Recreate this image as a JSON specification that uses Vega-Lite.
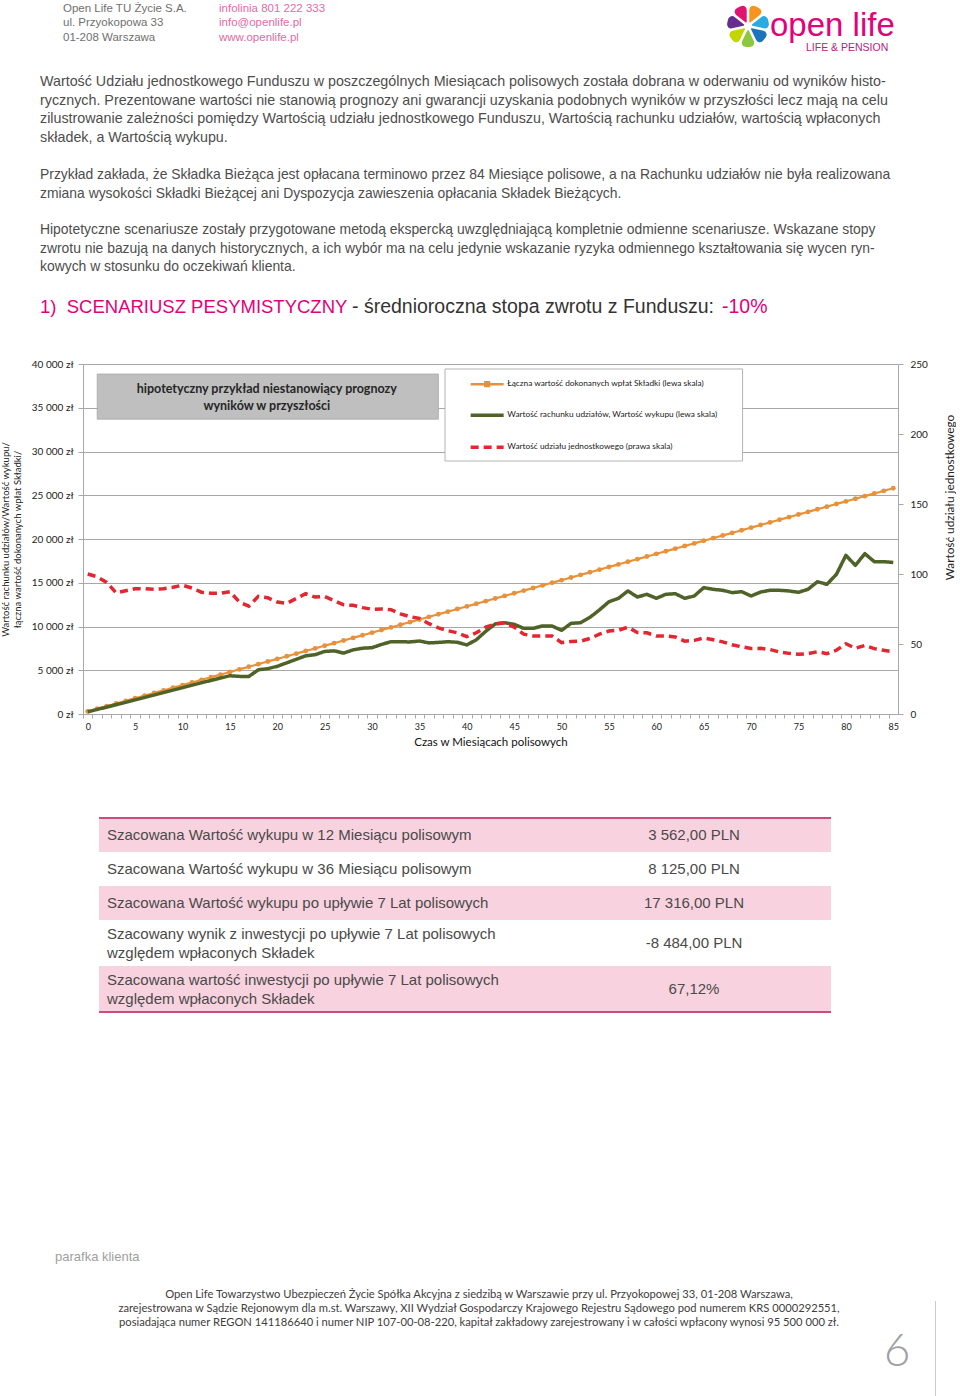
{
"$schema": "https://vega.github.io/schema/vega-lite/v6.json",
"background": "white",
"padding": 0,
"config": {"view": {"stroke": null}, "concat": {"spacing": 0}, "font": "Liberation Sans",
  "axisX": {"labelOverlap": false, "labelFlush": false, "labelBound": false}},
"resolve": {"scale": {"color": "independent", "strokeDash": "independent"}, "legend": {"color": "independent", "strokeDash": "independent"}},
"datasets": {
"series": [
{"m":0,"s":"p","v":300},{"m":1,"s":"p","v":600},{"m":2,"s":"p","v":900},{"m":3,"s":"p","v":1200},{"m":4,"s":"p","v":1500},{"m":5,"s":"p","v":1800},{"m":6,"s":"p","v":2100},{"m":7,"s":"p","v":2400},{"m":8,"s":"p","v":2700},{"m":9,"s":"p","v":3000},
{"m":10,"s":"p","v":3300},{"m":11,"s":"p","v":3600},{"m":12,"s":"p","v":3900},{"m":13,"s":"p","v":4200},{"m":14,"s":"p","v":4500},{"m":15,"s":"p","v":4800},{"m":16,"s":"p","v":5100},{"m":17,"s":"p","v":5400},{"m":18,"s":"p","v":5700},{"m":19,"s":"p","v":6000},
{"m":20,"s":"p","v":6300},{"m":21,"s":"p","v":6600},{"m":22,"s":"p","v":6900},{"m":23,"s":"p","v":7200},{"m":24,"s":"p","v":7500},{"m":25,"s":"p","v":7800},{"m":26,"s":"p","v":8100},{"m":27,"s":"p","v":8400},{"m":28,"s":"p","v":8700},{"m":29,"s":"p","v":9000},
{"m":30,"s":"p","v":9300},{"m":31,"s":"p","v":9600},{"m":32,"s":"p","v":9900},{"m":33,"s":"p","v":10200},{"m":34,"s":"p","v":10500},{"m":35,"s":"p","v":10800},{"m":36,"s":"p","v":11100},{"m":37,"s":"p","v":11400},{"m":38,"s":"p","v":11700},{"m":39,"s":"p","v":12000},
{"m":40,"s":"p","v":12300},{"m":41,"s":"p","v":12600},{"m":42,"s":"p","v":12900},{"m":43,"s":"p","v":13200},{"m":44,"s":"p","v":13500},{"m":45,"s":"p","v":13800},{"m":46,"s":"p","v":14100},{"m":47,"s":"p","v":14400},{"m":48,"s":"p","v":14700},{"m":49,"s":"p","v":15000},
{"m":50,"s":"p","v":15300},{"m":51,"s":"p","v":15600},{"m":52,"s":"p","v":15900},{"m":53,"s":"p","v":16200},{"m":54,"s":"p","v":16500},{"m":55,"s":"p","v":16800},{"m":56,"s":"p","v":17100},{"m":57,"s":"p","v":17400},{"m":58,"s":"p","v":17700},{"m":59,"s":"p","v":18000},
{"m":60,"s":"p","v":18300},{"m":61,"s":"p","v":18600},{"m":62,"s":"p","v":18900},{"m":63,"s":"p","v":19200},{"m":64,"s":"p","v":19500},{"m":65,"s":"p","v":19800},{"m":66,"s":"p","v":20100},{"m":67,"s":"p","v":20400},{"m":68,"s":"p","v":20700},{"m":69,"s":"p","v":21000},
{"m":70,"s":"p","v":21300},{"m":71,"s":"p","v":21600},{"m":72,"s":"p","v":21900},{"m":73,"s":"p","v":22200},{"m":74,"s":"p","v":22500},{"m":75,"s":"p","v":22800},{"m":76,"s":"p","v":23100},{"m":77,"s":"p","v":23400},{"m":78,"s":"p","v":23700},{"m":79,"s":"p","v":24000},
{"m":80,"s":"p","v":24300},{"m":81,"s":"p","v":24600},{"m":82,"s":"p","v":24900},{"m":83,"s":"p","v":25200},{"m":84,"s":"p","v":25500},{"m":85,"s":"p","v":25800},
{"m":0,"s":"w","v":250},{"m":1,"s":"w","v":520},{"m":2,"s":"w","v":790},{"m":3,"s":"w","v":1060},{"m":4,"s":"w","v":1330},{"m":5,"s":"w","v":1610},{"m":6,"s":"w","v":1890},{"m":7,"s":"w","v":2170},{"m":8,"s":"w","v":2450},{"m":9,"s":"w","v":2730},
{"m":10,"s":"w","v":3010},{"m":11,"s":"w","v":3290},{"m":12,"s":"w","v":3562},{"m":13,"s":"w","v":3840},{"m":14,"s":"w","v":4110},{"m":15,"s":"w","v":4370},{"m":16,"s":"w","v":4300},{"m":17,"s":"w","v":4290},{"m":18,"s":"w","v":5050},{"m":19,"s":"w","v":5180},
{"m":20,"s":"w","v":5450},{"m":21,"s":"w","v":5850},{"m":22,"s":"w","v":6250},{"m":23,"s":"w","v":6650},{"m":24,"s":"w","v":6780},{"m":25,"s":"w","v":7150},{"m":26,"s":"w","v":7220},{"m":27,"s":"w","v":6960},{"m":28,"s":"w","v":7330},{"m":29,"s":"w","v":7520},
{"m":30,"s":"w","v":7580},{"m":31,"s":"w","v":7950},{"m":32,"s":"w","v":8260},{"m":33,"s":"w","v":8250},{"m":34,"s":"w","v":8240},{"m":35,"s":"w","v":8340},{"m":36,"s":"w","v":8125},{"m":37,"s":"w","v":8180},{"m":38,"s":"w","v":8260},{"m":39,"s":"w","v":8200},
{"m":40,"s":"w","v":7890},{"m":41,"s":"w","v":8480},{"m":42,"s":"w","v":9450},{"m":43,"s":"w","v":10300},{"m":44,"s":"w","v":10430},{"m":45,"s":"w","v":10250},{"m":46,"s":"w","v":9790},{"m":47,"s":"w","v":9790},{"m":48,"s":"w","v":10060},{"m":49,"s":"w","v":10060},
{"m":50,"s":"w","v":9560},{"m":51,"s":"w","v":10360},{"m":52,"s":"w","v":10430},{"m":53,"s":"w","v":11050},{"m":54,"s":"w","v":11900},{"m":55,"s":"w","v":12830},{"m":56,"s":"w","v":13220},{"m":57,"s":"w","v":14060},{"m":58,"s":"w","v":13370},{"m":59,"s":"w","v":13680},
{"m":60,"s":"w","v":13220},{"m":61,"s":"w","v":13680},{"m":62,"s":"w","v":13750},{"m":63,"s":"w","v":13220},{"m":64,"s":"w","v":13490},{"m":65,"s":"w","v":14440},{"m":66,"s":"w","v":14250},{"m":67,"s":"w","v":14140},{"m":68,"s":"w","v":13870},{"m":69,"s":"w","v":13980},
{"m":70,"s":"w","v":13490},{"m":71,"s":"w","v":13940},{"m":72,"s":"w","v":14140},{"m":73,"s":"w","v":14140},{"m":74,"s":"w","v":14060},{"m":75,"s":"w","v":13910},{"m":76,"s":"w","v":14250},{"m":77,"s":"w","v":15120},{"m":78,"s":"w","v":14820},{"m":79,"s":"w","v":15960},
{"m":80,"s":"w","v":18130},{"m":81,"s":"w","v":16990},{"m":82,"s":"w","v":18320},{"m":83,"s":"w","v":17410},{"m":84,"s":"w","v":17410},{"m":85,"s":"w","v":17316},
{"m":0,"s":"u","v":100},{"m":1,"s":"u","v":98},{"m":2,"s":"u","v":94},{"m":3,"s":"u","v":86.5},{"m":4,"s":"u","v":88},{"m":5,"s":"u","v":89.5},{"m":6,"s":"u","v":89.5},{"m":7,"s":"u","v":89},{"m":8,"s":"u","v":89.5},{"m":9,"s":"u","v":90.5},
{"m":10,"s":"u","v":92},{"m":11,"s":"u","v":90},{"m":12,"s":"u","v":87},{"m":13,"s":"u","v":86.2},{"m":14,"s":"u","v":86.2},{"m":15,"s":"u","v":87.4},{"m":16,"s":"u","v":80},{"m":17,"s":"u","v":77},{"m":18,"s":"u","v":84},{"m":19,"s":"u","v":83},
{"m":20,"s":"u","v":80},{"m":21,"s":"u","v":79},{"m":22,"s":"u","v":82.5},{"m":23,"s":"u","v":86},{"m":24,"s":"u","v":83.5},{"m":25,"s":"u","v":84},{"m":26,"s":"u","v":81},{"m":27,"s":"u","v":78},{"m":28,"s":"u","v":77.6},{"m":29,"s":"u","v":76},
{"m":30,"s":"u","v":74.8},{"m":31,"s":"u","v":75},{"m":32,"s":"u","v":74.5},{"m":33,"s":"u","v":71.5},{"m":34,"s":"u","v":69.5},{"m":35,"s":"u","v":68.3},{"m":36,"s":"u","v":64.5},{"m":37,"s":"u","v":61.5},{"m":38,"s":"u","v":59.5},{"m":39,"s":"u","v":58},
{"m":40,"s":"u","v":55.2},{"m":41,"s":"u","v":58},{"m":42,"s":"u","v":62},{"m":43,"s":"u","v":64.3},{"m":44,"s":"u","v":65.2},{"m":45,"s":"u","v":62},{"m":46,"s":"u","v":57},{"m":47,"s":"u","v":55.8},{"m":48,"s":"u","v":55.7},{"m":49,"s":"u","v":55.7},
{"m":50,"s":"u","v":51},{"m":51,"s":"u","v":51.8},{"m":52,"s":"u","v":52},{"m":53,"s":"u","v":54},{"m":54,"s":"u","v":57},{"m":55,"s":"u","v":59.3},{"m":56,"s":"u","v":59.8},{"m":57,"s":"u","v":62},{"m":58,"s":"u","v":58.2},{"m":59,"s":"u","v":58},
{"m":60,"s":"u","v":55.7},{"m":61,"s":"u","v":55.7},{"m":62,"s":"u","v":55},{"m":63,"s":"u","v":52},{"m":64,"s":"u","v":52.6},{"m":65,"s":"u","v":54.3},{"m":66,"s":"u","v":53},{"m":67,"s":"u","v":51.5},{"m":68,"s":"u","v":49.5},{"m":69,"s":"u","v":48},
{"m":70,"s":"u","v":46.8},{"m":71,"s":"u","v":46.9},{"m":72,"s":"u","v":46},{"m":73,"s":"u","v":44.3},{"m":74,"s":"u","v":43.3},{"m":75,"s":"u","v":42.6},{"m":76,"s":"u","v":43.1},{"m":77,"s":"u","v":44.5},{"m":78,"s":"u","v":43.1},{"m":79,"s":"u","v":45.5},
{"m":80,"s":"u","v":50.2},{"m":81,"s":"u","v":46.9},{"m":82,"s":"u","v":49},{"m":83,"s":"u","v":46.7},{"m":84,"s":"u","v":45.5},{"m":85,"s":"u","v":44.5}
]
},
"vconcat": [
{"hconcat": [
  {"width": 644, "height": 52,
   "data": {"values": [{"company": "Open Life TU Życie S.A.\nul. Przyokopowa 33\n01-208 Warszawa", "contact": "infolinia 801 222 333\ninfo@openlife.pl\nwww.openlife.pl"}]},
   "layer": [
     {"mark": {"type": "text", "align": "left", "baseline": "middle", "dx": -342, "dy": -17, "fontSize": 11.5, "lineHeight": 14.3, "lineBreak": "\n", "color": "#707070"}, "encoding": {"text": {"field": "company"}}},
     {"mark": {"type": "text", "align": "left", "baseline": "middle", "dx": -186, "dy": -17, "fontSize": 11.5, "lineHeight": 14.3, "lineBreak": "\n", "color": "#e36aa6"}, "encoding": {"text": {"field": "contact"}}}
   ]},
  {"width": 42, "height": 52,
   "data": {"values": [{"petal": 0}, {"petal": 1}, {"petal": 2}, {"petal": 3}, {"petal": 4}, {"petal": 5}, {"petal": 6}]},
   "mark": {"type": "arc", "outerRadius": 21, "innerRadius": 4, "padAngle": 0.12, "cornerRadius": 4},
   "encoding": {
     "theta": {"aggregate": "count", "type": "quantitative"},
     "color": {"field": "petal", "type": "nominal", "scale": {"range": ["#f7941d", "#29abe2", "#1b75bc", "#8dc63f", "#c4d600", "#662d91", "#e2136e"]}, "legend": null}
   }},
  {"width": 1, "height": 52,
   "data": {"values": [{"brand": "open life", "tag": "LIFE & PENSION"}]},
   "layer": [
     {"mark": {"type": "text", "align": "left", "baseline": "alphabetic", "dx": 0.5, "dy": 9.5, "fontSize": 33, "color": "#e4007c"}, "encoding": {"text": {"field": "brand"}}},
     {"mark": {"type": "text", "align": "left", "baseline": "alphabetic", "dx": 36.5, "dy": 24.5, "fontSize": 10.5, "color": "#b0237f"}, "encoding": {"text": {"field": "tag"}}}
   ]}
]},
{"width": 1, "height": 114,
 "data": {"values": [{"t": "Wartość Udziału jednostkowego Funduszu w poszczególnych Miesiącach polisowych została dobrana w oderwaniu od wyników histo-\nrycznych. Prezentowane wartości nie stanowią prognozy ani gwarancji uzyskania podobnych wyników w przyszłości lecz mają na celu\nzilustrowanie zależności pomiędzy Wartością udziału jednostkowego Funduszu, Wartością rachunku udziałów, wartością wpłaconych\nskładek, a Wartością wykupu."}]},
 "mark": {"type": "text", "align": "left", "baseline": "middle", "dx": -43.5, "dy": -28, "fontSize": 14.3, "lineHeight": 18.7, "lineBreak": "\n", "color": "#4d4d4d"},
 "encoding": {"text": {"field": "t"}}},
{"width": 1, "height": 34,
 "data": {"values": [{"t": "Przykład zakłada, że Składka Bieżąca jest opłacana terminowo przez 84 Miesiące polisowe, a na Rachunku udziałów nie była realizowana\nzmiana wysokości Składki Bieżącej ani Dyspozycja zawieszenia opłacania Składek Bieżących."}]},
 "mark": {"type": "text", "align": "left", "baseline": "middle", "dx": -43.5, "dy": -9, "fontSize": 13.9, "lineHeight": 18.5, "lineBreak": "\n", "color": "#4d4d4d"},
 "encoding": {"text": {"field": "t"}}},
{"width": 1, "height": 95,
 "data": {"values": [{"t": "Hipotetyczne scenariusze zostały przygotowane metodą ekspercką uwzględniającą kompletnie odmienne scenariusze. Wskazane stopy\nzwrotu nie bazują na danych historycznych, a ich wybór ma na celu jedynie wskazanie ryzyka odmiennego kształtowania się wycen ryn-\nkowych w stosunku do oczekiwań klienta."}]},
 "mark": {"type": "text", "align": "left", "baseline": "middle", "dx": -43.5, "dy": -18.5, "fontSize": 13.9, "lineHeight": 18.5, "lineBreak": "\n", "color": "#4d4d4d"},
 "encoding": {"text": {"field": "t"}}},
{"width": 1, "height": 62.5,
 "data": {"values": [{"a": "1)\u00a0 SCENARIUSZ PESYMISTYCZNY", "b": "- średnioroczna stopa zwrotu z Funduszu:", "c": "-10%"}]},
 "layer": [
   {"mark": {"type": "text", "align": "left", "baseline": "middle", "dx": -43.5, "dy": -20.25, "fontSize": 18.5, "color": "#e2007a"}, "encoding": {"text": {"field": "a"}}},
   {"mark": {"type": "text", "align": "left", "baseline": "middle", "dx": 268.5, "dy": -20.25, "fontSize": 19.5, "color": "#333333"}, "encoding": {"text": {"field": "b"}}},
   {"mark": {"type": "text", "align": "left", "baseline": "middle", "dx": 638.5, "dy": -20.25, "fontSize": 19.5, "color": "#e2007a"}, "encoding": {"text": {"field": "c"}}}
 ]},
{"width": 815, "height": 350,
 "data": {"name": "series"},
 "layer": [
   {"layer": [
     {"data": {"values": [{}]},
      "mark": {"type": "rect", "fill": "#bfbfbf", "stroke": "#a6a6a6", "strokeWidth": 0.8},
      "encoding": {"x": {"datum": 1.0, "type": "quantitative", "axis": {"tickCount": 86, "tickOffset": -4.7384, "labelOffset": 4.7384, "labelExpr": "datum.value % 5 === 0 ? datum.label : ''", "labelOverlap": false, "title": "Czas w Miesiącach polisowych"}},
                   "x2": {"datum": 37.0}, "y": {"datum": 38850, "type": "quantitative"}, "y2": {"datum": 33700}}},
     {"data": {"values": [{}]},
      "mark": {"type": "text", "align": "center", "baseline": "middle", "font": "Lato", "fontWeight": "bold", "fontSize": 12.5, "lineHeight": 17, "lineBreak": "\n", "color": "#262626", "text": "hipotetyczny przykład niestanowiący prognozy\nwyników w przyszłości"},
      "encoding": {"x": {"datum": 18.9, "type": "quantitative", "axis": {"tickCount": 86, "tickOffset": -4.7384, "labelOffset": 4.7384, "labelExpr": "datum.value % 5 === 0 ? datum.label : ''", "labelOverlap": false, "title": "Czas w Miesiącach polisowych"}},
                   "y": {"datum": 37140, "type": "quantitative"}}},
     {"data": {"values": [{}]},
      "mark": {"type": "rect", "fill": "white", "stroke": "#b3b3b3", "strokeWidth": 1},
      "encoding": {"x": {"datum": 37.7, "type": "quantitative", "axis": {"tickCount": 86, "tickOffset": -4.7384, "labelOffset": 4.7384, "labelExpr": "datum.value % 5 === 0 ? datum.label : ''", "labelOverlap": false, "title": "Czas w Miesiącach polisowych"}},
                   "x2": {"datum": 69.1}, "y": {"datum": 39430, "type": "quantitative"}, "y2": {"datum": 28915}}},
     {"transform": [{"filter": "datum.s === 'p'"}],
      "mark": {"type": "line", "strokeWidth": 2.2},
      "encoding": {
        "x": {"field": "m", "type": "quantitative",
              "scale": {"domain": [-0.5, 85.5], "nice": false, "zero": false},
              "axis": {"tickCount": 86, "tickOffset": -4.7384, "labelOffset": 4.7384,
                       "labelExpr": "datum.value % 5 === 0 ? datum.label : ''", "labelOverlap": false,
                       "grid": false, "domainColor": "#a8a8a8", "tickColor": "#a8a8a8", "tickSize": 4,
                       "labelPadding": 4, "labelFont": "Lato", "labelFontSize": 9, "labelColor": "#222222",
                       "title": "Czas w Miesiącach polisowych", "titleFont": "Lato", "titleFontSize": 11.5, "titleFontWeight": "normal", "titleColor": "#111111", "titlePadding": 5}},
        "y": {"field": "v", "type": "quantitative",
              "scale": {"domain": [0, 40000], "nice": false},
              "axis": {"values": [0, 5000, 10000, 15000, 20000, 25000, 30000, 35000, 40000],
                       "labelExpr": "replace(format(datum.value, ','), ',', ' ') + ' zł'",
                       "grid": true, "gridColor": "#a8a8a8", "domainColor": "#a8a8a8", "tickColor": "#a8a8a8", "tickSize": 5,
                       "labelPadding": 5, "labelFont": "Lato", "labelFontSize": 10, "labelColor": "#222222", "labelOverlap": false,
                       "title": ["Wartość rachunku udziałów/Wartość wykupu/", "łączna wartość dokonanych wpłat Składki/"],
                       "titleFont": "Lato", "titleFontSize": 9.5, "titleFontWeight": "normal", "titleColor": "#222222", "titleLineHeight": 12,
                       "titlePadding": 5, "minExtent": 56, "maxExtent": 56}},
        "color": {"field": "s", "type": "nominal",
                  "scale": {"domain": ["p", "w", "u"], "range": ["#e8913a", "#4f6228", "#e3262f"]},
                  "legend": {"orient": "none", "legendX": 400, "legendY": 16, "title": null,
                             "symbolType": "M-1.65,0H1.65", "symbolSize": 400, "symbolStrokeWidth": 3.5,
                             "labelFont": "Lato", "labelFontSize": 8.3, "labelColor": "#1a1a1a", "labelOffset": 16, "labelLimit": 400,
                             "rowPadding": 17, "padding": 0,
                             "labelExpr": "datum.label === 'p' ? 'Łączna wartość dokonanych wpłat Składki (lewa skala)' : datum.label === 'w' ? 'Wartość rachunku udziałów, Wartość wykupu (lewa skala)' : 'Wartość udziału jednostkowego (prawa skala)'",
                             "encode": {"symbols": {"update": {"shape": {"signal": "datum.value === 'p' ? 'M-1.65,0H1.65M-0.18,-0.18H0.18V0.18H-0.18Z' : 'M-1.65,0H1.65'"}, "strokeWidth": {"signal": "datum.value === 'p' ? 2.5 : 3.5"}}}}}},
        "strokeDash": {"field": "s", "type": "nominal", "scale": {"domain": ["p", "w", "u"], "range": [[1, 0], [1, 0], [8, 5]]}}
      }},
     {"transform": [{"filter": "datum.s === 'p'"}],
      "mark": {"type": "point", "filled": true, "size": 24, "color": "#e8913a", "opacity": 1},
      "encoding": {"x": {"field": "m", "type": "quantitative", "axis": {"tickCount": 86, "tickOffset": -4.7384, "labelOffset": 4.7384, "labelExpr": "datum.value % 5 === 0 ? datum.label : ''", "labelOverlap": false, "title": "Czas w Miesiącach polisowych"}},
                   "y": {"field": "v", "type": "quantitative"}}},
     {"transform": [{"filter": "datum.s === 'w'"}],
      "mark": {"type": "line", "strokeWidth": 3.5, "strokeJoin": "round"},
      "encoding": {"x": {"field": "m", "type": "quantitative", "axis": {"tickCount": 86, "tickOffset": -4.7384, "labelOffset": 4.7384, "labelExpr": "datum.value % 5 === 0 ? datum.label : ''", "labelOverlap": false, "title": "Czas w Miesiącach polisowych"}},
                   "y": {"field": "v", "type": "quantitative"},
                   "color": {"field": "s", "type": "nominal"}, "strokeDash": {"field": "s", "type": "nominal"}}}
   ]},
   {"transform": [{"filter": "datum.s === 'u'"}],
    "mark": {"type": "line", "strokeWidth": 3.5},
    "encoding": {"x": {"field": "m", "type": "quantitative", "axis": {"tickCount": 86, "tickOffset": -4.7384, "labelOffset": 4.7384, "labelExpr": "datum.value % 5 === 0 ? datum.label : ''", "labelOverlap": false, "title": "Czas w Miesiącach polisowych"}},
                 "y": {"field": "v", "type": "quantitative",
                       "scale": {"domain": [0, 250], "nice": false},
                       "axis": {"orient": "right", "values": [0, 50, 100, 150, 200, 250], "grid": false,
                                "domainColor": "#a8a8a8", "tickColor": "#a8a8a8", "tickSize": 5,
                                "labelPadding": 7, "labelFont": "Lato", "labelFontSize": 10, "labelColor": "#222222",
                                "title": "Wartość udziału jednostkowego", "titleFont": "Lato", "titleFontSize": 11.8, "titleFontWeight": "normal", "titleColor": "#222222",
                                "titleAngle": 270, "titlePadding": 27, "minExtent": 30, "maxExtent": 30, "titleY": 133}},
                 "color": {"field": "s", "type": "nominal"}, "strokeDash": {"field": "s", "type": "nominal"}}}
 ],
 "resolve": {"scale": {"y": "independent"}}},
{"width": 1, "height": 69, "data": {"values": []}, "mark": "text"},
{"hconcat": [
  {"width": 15, "height": 1, "data": {"values": []}, "mark": "text"},
  {"vconcat": [
    {"width": 732, "height": 102,
     "data": {"values": [
       {"row": 1, "label": "Szacowana Wartość wykupu w 12 Miesiącu polisowym", "value": "3 562,00 PLN"},
       {"row": 2, "label": "Szacowana Wartość wykupu w 36 Miesiącu polisowym", "value": "8 125,00 PLN"},
       {"row": 3, "label": "Szacowana Wartość wykupu po upływie 7 Lat polisowych", "value": "17 316,00 PLN"}]},
     "encoding": {"y": {"field": "row", "type": "ordinal", "axis": null, "scale": {"paddingInner": 0, "paddingOuter": 0}}},
     "layer": [
       {"transform": [{"filter": "datum.row % 2 === 1"}], "mark": {"type": "rect", "color": "#f8d3df"}},
       {"transform": [{"filter": "datum.row === 1"}], "mark": {"type": "rule", "color": "#cf4a80", "strokeWidth": 2},
        "encoding": {"y": {"field": "row", "type": "ordinal", "bandPosition": 0, "axis": null}}},
       {"mark": {"type": "text", "align": "left", "baseline": "middle", "dx": -358, "fontSize": 15, "color": "#4a4a4a"}, "encoding": {"text": {"field": "label"}}},
       {"mark": {"type": "text", "align": "center", "baseline": "middle", "dx": 229, "fontSize": 15, "color": "#4a4a4a"}, "encoding": {"text": {"field": "value"}}}
     ]},
    {"width": 732, "height": 92,
     "data": {"values": [
       {"row": 4, "label": "Szacowany wynik z inwestycji po upływie 7 Lat polisowych\nwzględem wpłaconych Składek", "value": "-8 484,00 PLN"},
       {"row": 5, "label": "Szacowana wartość inwestycji po upływie 7 Lat polisowych\nwzględem wpłaconych Składek", "value": "67,12%"}]},
     "encoding": {"y": {"field": "row", "type": "ordinal", "axis": null, "scale": {"paddingInner": 0, "paddingOuter": 0}}},
     "layer": [
       {"transform": [{"filter": "datum.row % 2 === 1"}], "mark": {"type": "rect", "color": "#f8d3df"}},
       {"transform": [{"filter": "datum.row === 5"}], "mark": {"type": "rule", "color": "#cf4a80", "strokeWidth": 2},
        "encoding": {"y": {"field": "row", "type": "ordinal", "bandPosition": 1, "axis": null}}},
       {"mark": {"type": "text", "align": "left", "baseline": "middle", "dx": -358, "dy": -9.5, "fontSize": 15, "lineHeight": 19, "lineBreak": "\n", "color": "#4a4a4a"}, "encoding": {"text": {"field": "label"}}},
       {"mark": {"type": "text", "align": "center", "baseline": "middle", "dx": 229, "fontSize": 15, "color": "#4a4a4a"}, "encoding": {"text": {"field": "value"}}}
     ]}
  ]}
]},
{"width": 1, "height": 228, "data": {"values": []}, "mark": "text"},
{"hconcat": [
  {"width": 852, "height": 156,
   "data": {"values": [{"parafka": "parafka klienta", "legal": "Open Life Towarzystwo Ubezpieczeń Życie Spółka Akcyjna z siedzibą w Warszawie przy ul. Przyokopowej 33, 01-208 Warszawa,\nzarejestrowana w Sądzie Rejonowym dla m.st. Warszawy, XII Wydział Gospodarczy Krajowego Rejestru Sądowego pod numerem KRS 0000292551,\nposiadająca numer REGON 141186640 i numer NIP 107-00-08-220, kapitał zakładowy zarejestrowany i w całości wpłacony wynosi 95 500 000 zł.", "page": "6"}]},
   "layer": [
     {"mark": {"type": "text", "align": "left", "baseline": "middle", "dx": -454, "dy": -62, "fontSize": 13, "color": "#a0a0a0"}, "encoding": {"text": {"field": "parafka"}}},
     {"mark": {"type": "text", "align": "center", "baseline": "middle", "dx": -30, "dy": -24, "font": "Lato", "fontSize": 11.2, "lineHeight": 14, "lineBreak": "\n", "color": "#404040"}, "encoding": {"text": {"field": "legal"}}},
     {"mark": {"type": "text", "align": "center", "baseline": "middle", "dx": 388, "dy": 33, "font": "Lato", "fontWeight": 300, "fontSize": 46, "color": "#a0a0a0"}, "encoding": {"text": {"field": "page"}}}
   ]},
  {"vconcat": [
    {"width": 1, "height": 60, "data": {"values": []}, "mark": "text"},
    {"width": 1, "height": 96, "data": {"values": [{}]}, "mark": {"type": "rect", "color": "#cccccc"}, "encoding": {}}
  ]}
]}
]
}
